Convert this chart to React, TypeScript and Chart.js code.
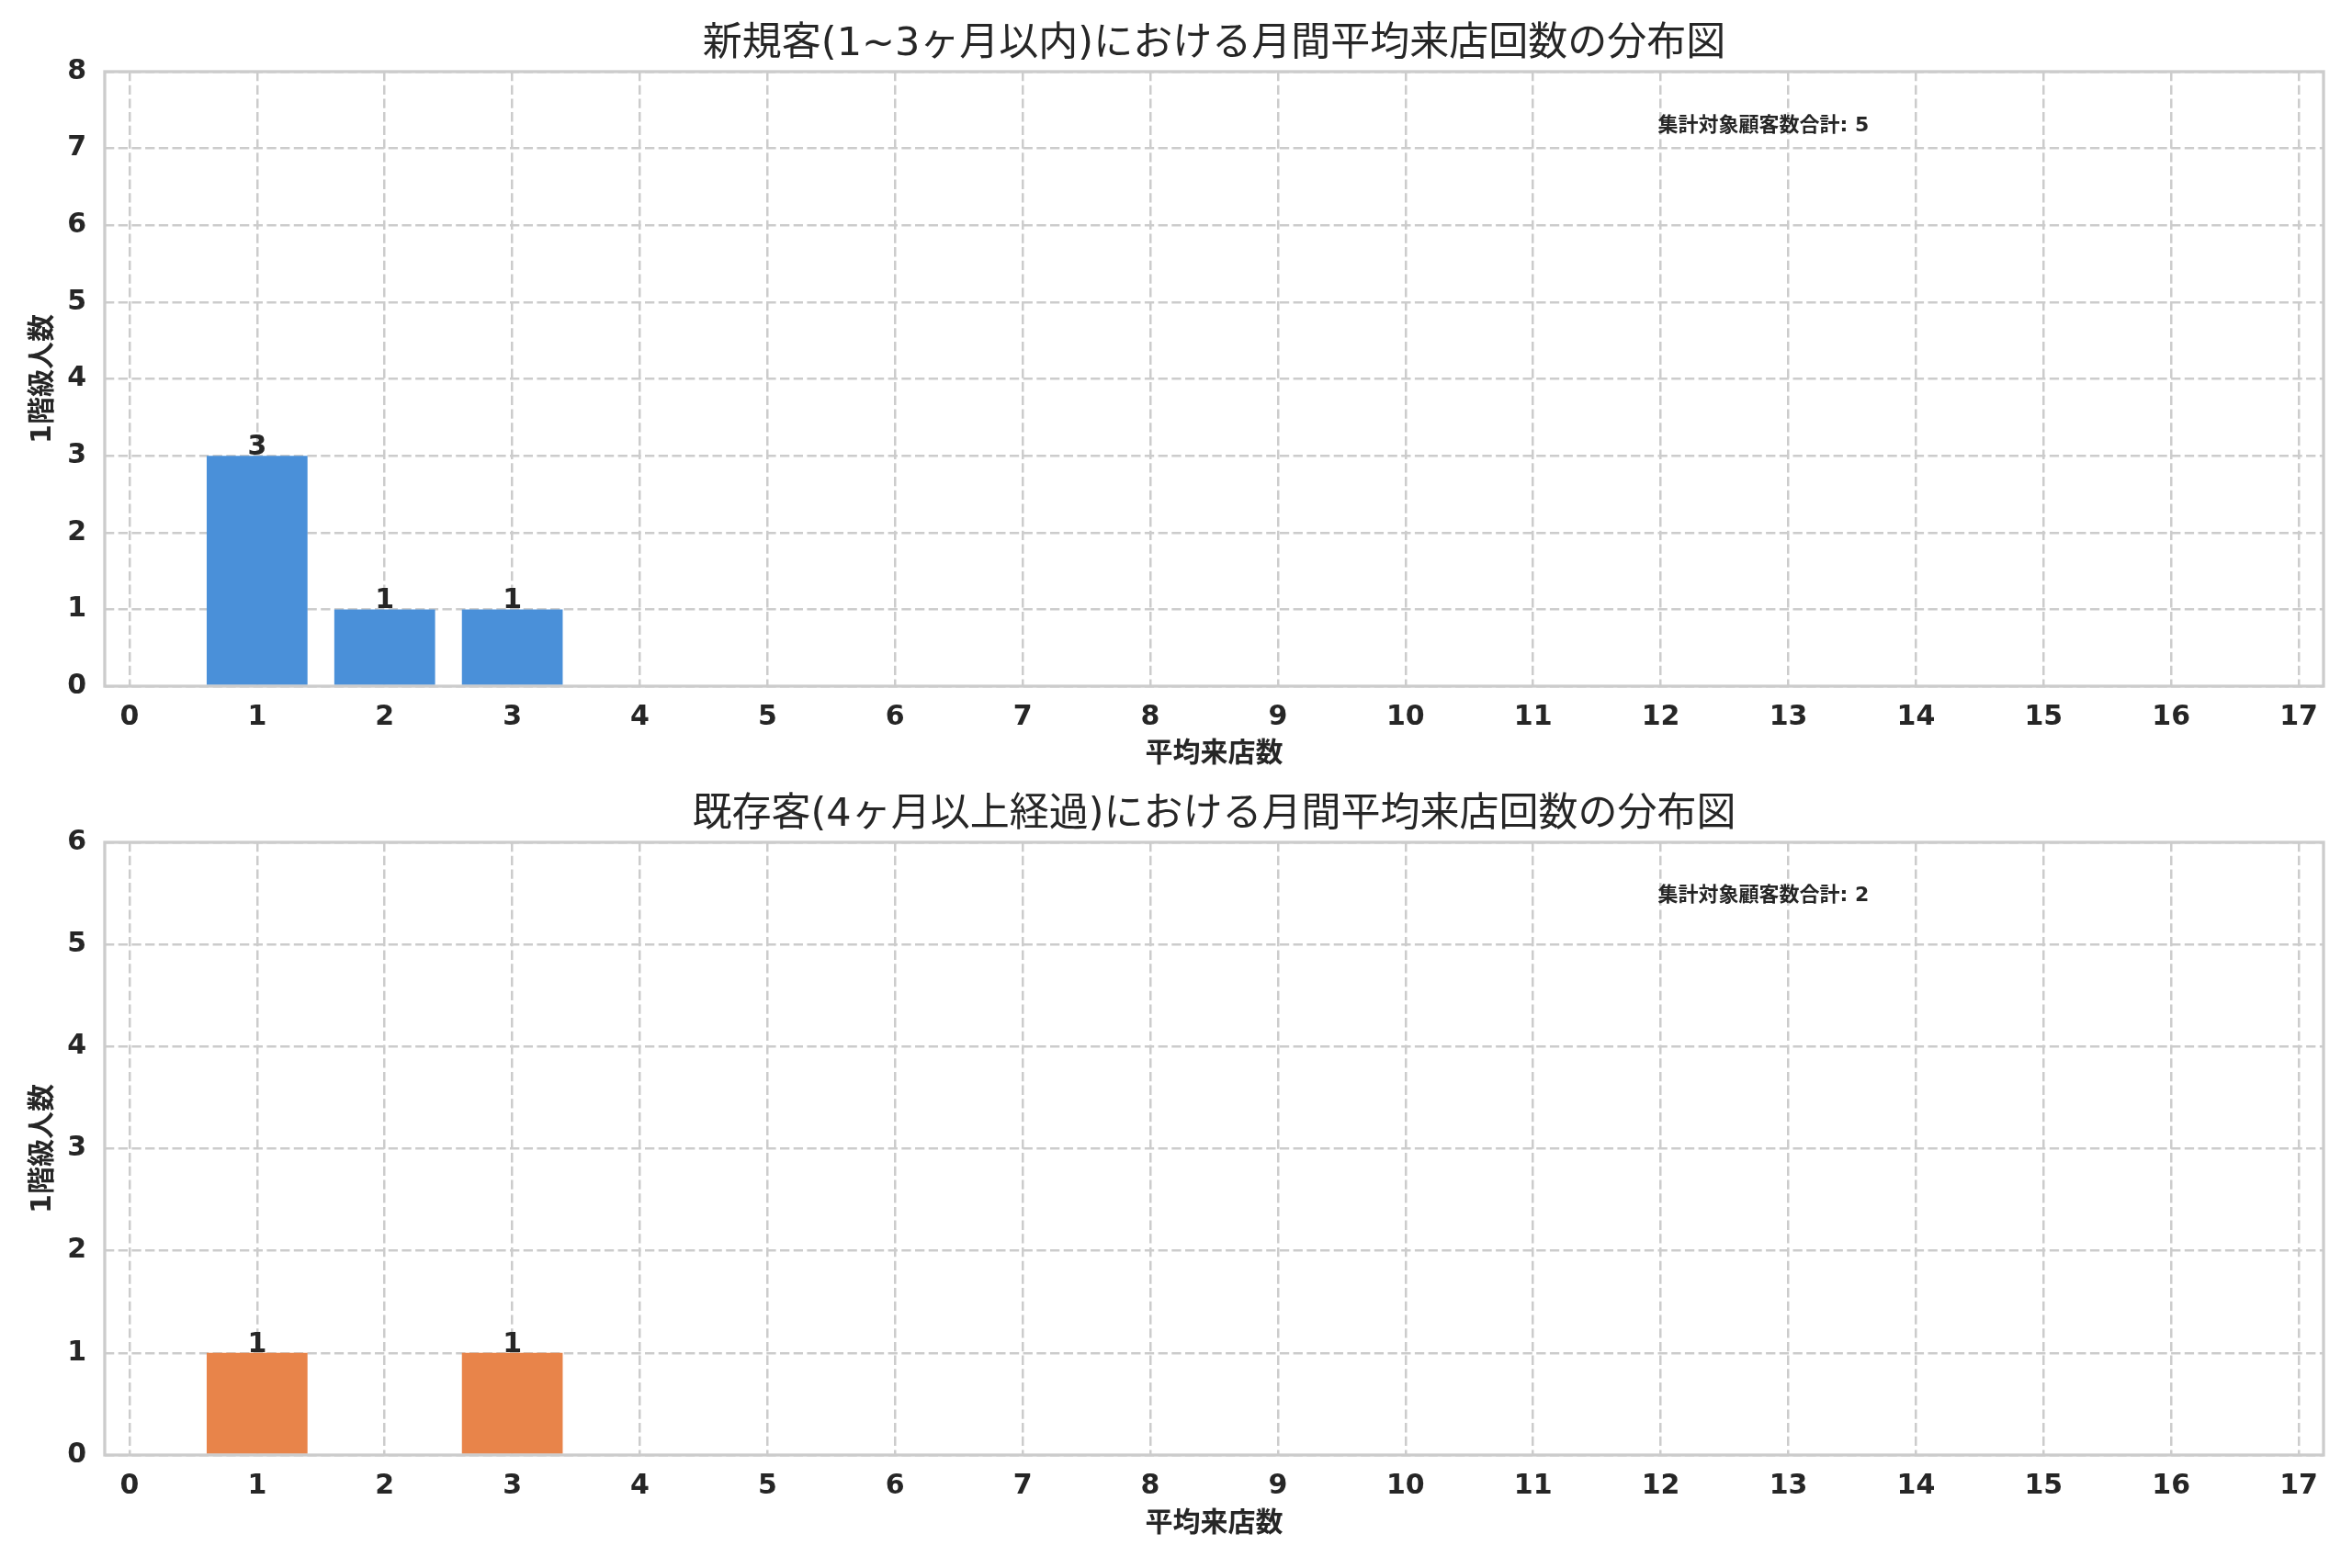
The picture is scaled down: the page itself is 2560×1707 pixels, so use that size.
import React, { useEffect, useRef } from 'react';
import { Chart, registerables } from 'chart.js';

Chart.register(...registerables);

// 月間平均来店回数 (0〜17) ごとの人数
const visitBins = [0, 1, 2, 3, 4, 5, 6, 7, 8, 9, 10, 11, 12, 13, 14, 15, 16, 17];
const earlyCounts = [0, 3, 1, 1, 0, 0, 0, 0, 0, 0, 0, 0, 0, 0, 0, 0, 0, 0];
const lateCounts = [0, 1, 0, 1, 0, 0, 0, 0, 0, 0, 0, 0, 0, 0, 0, 0, 0, 0];

const earlyTitle = '新規客(1~3ヶ月以内)における月間平均来店回数の分布図';
const lateTitle = '既存客(4ヶ月以上経過)における月間平均来店回数の分布図';
const xLabel = '平均来店数';
const yLabel = '1階級人数';
const noteLabel = '集計対象顧客数合計';

const FONT = "'DejaVu Sans', 'Noto Sans CJK JP', sans-serif";
const INK = '#262626';
const LIGHT = '#cccccc';
const W = 2560;

type PanelProps = {
  title: string;
  counts: number[];
  color: string;
  yMax: number;
  height: number;
  areaTop: number;
  areaBottom: number;
  labelY: number;
};

const Panel = (p: PanelProps) => {
  const canvasRef = useRef<HTMLCanvasElement>(null);

  useEffect(() => {
    const ctx: any = canvasRef.current && canvasRef.current.getContext('2d');
    const total = p.counts.reduce((a, b) => a + b, 0);

    // 値ラベル・枠線・タイトル・注記
    const decor = {
      id: 'decor',
      afterDatasetsDraw(chart: any) {
        const { ctx: c, chartArea: a } = chart;
        const meta = chart.getDatasetMeta(0);
        c.save();
        c.fillStyle = INK;
        c.font = `bold 30px ${FONT}`;
        c.textAlign = 'center';
        c.textBaseline = 'alphabetic';
        meta.data.forEach((bar: any, i: number) => {
          if (p.counts[i] > 0) c.fillText(String(p.counts[i]), bar.x, bar.y - 1);
        });

        c.strokeStyle = LIGHT;
        c.lineWidth = 3.3;
        c.strokeRect(a.left, a.top, a.right - a.left, a.bottom - a.top);

        c.font = `43px ${FONT}`;
        c.textBaseline = 'middle';
        c.fillText(p.title, (a.left + a.right) / 2, a.top - 29.5);

        c.font = `bold 22px ${FONT}`;
        c.textAlign = 'left';
        c.fillText(`${noteLabel}: ${total}`, a.left + 0.7 * (a.right - a.left), a.top + 0.088 * (a.bottom - a.top));
        c.restore();
      },
    };

    const tickFont = { family: FONT, size: 30, weight: 'bold' as const };

    const config: any = {
      type: 'bar',
      data: {
        datasets: [
          {
            data: visitBins.map((b, i) => ({ x: b, y: p.counts[i] })),
            backgroundColor: p.color,
            borderWidth: 0,
            barPercentage: 0.79,
            categoryPercentage: 1,
          },
        ],
      },
      options: {
        animation: false,
        responsive: false,
        layout: { padding: { top: p.areaTop, right: W - 2529, left: 0, bottom: 0 } },
        plugins: { legend: { display: false }, tooltip: { enabled: false } },
        scales: {
          x: {
            type: 'linear',
            min: -0.194,
            max: 17.194,
            offset: false,
            grid: { color: LIGHT, lineWidth: 2.5, drawTicks: false, offset: false },
            border: { display: false, dash: [10.3, 4.4] },
            ticks: {
              stepSize: 1,
              includeBounds: false,
              maxTicksLimit: 100,
              autoSkip: false,
              maxRotation: 0,
              padding: 16,
              color: INK,
              font: tickFont,
              callback: (v: number) => String(v),
            },
            title: {
              display: true,
              text: xLabel,
              color: INK,
              font: tickFont,
              padding: { top: 0, bottom: p.height - p.labelY - 18 },
            },
            afterFit: (s: any) => {
              s.height = p.height - p.areaBottom;
            },
          },
          y: {
            min: 0,
            max: p.yMax,
            grid: { color: LIGHT, lineWidth: 2.5, drawTicks: false },
            border: { display: false, dash: [10.3, 4.4] },
            ticks: { stepSize: 1, padding: 20, color: INK, font: tickFont },
            title: {
              display: true,
              text: yLabel,
              color: INK,
              font: tickFont,
              padding: { top: 29, bottom: 0 },
            },
            afterFit: (s: any) => {
              s.width = 114;
            },
          },
        },
      },
      plugins: [decor],
    };

    const chart = new Chart(ctx, config);
    return () => {
      chart.destroy();
    };
  }, []);

  return (
    <canvas
      ref={canvasRef}
      width={W}
      height={p.height}
      style={{ display: 'block', width: W + 'px', height: p.height + 'px' }}
    ></canvas>
  );
};

const App = () => {
  return (
    <div style={{ position: 'absolute', left: 0, top: 0, width: W + 'px', height: '1707px', background: '#fff' }}>
      <Panel title={earlyTitle} counts={earlyCounts} color="#4A90D9" yMax={8} height={840} areaTop={78} areaBottom={747} labelY={821} />
      <Panel title={lateTitle} counts={lateCounts} color="#E8844A" yMax={6} height={867} areaTop={77} areaBottom={744} labelY={819} />
    </div>
  );
};

export default App;
